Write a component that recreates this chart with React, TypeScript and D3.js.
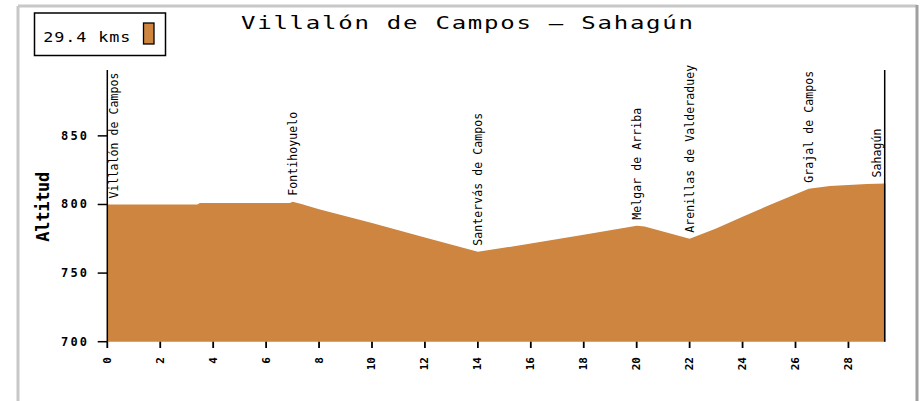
import React from "react";
import * as d3 from "d3";

const profileKm = [0, 3.4, 3.5, 6.9, 7.0, 7.3, 8, 10, 12, 14, 16, 18, 20, 20.3, 22, 23, 24, 25, 26, 26.5, 27.3, 28.7, 29.4];
const profileAlt = [800, 800, 801, 801, 802, 800.5, 796.5, 786.5, 776, 765.5, 771.5, 778, 784.5, 784, 775, 782.5, 791, 799.5, 807.5, 811.5, 813.5, 815, 815.3];

const stationNames = ["Villalón de Campos", "Fontihoyuelo", "Santervás de Campos", "Melgar de Arriba", "Arenillas de Valderaduey", "Grajal de Campos", "Sahagún"];
const stationKm = [0, 7.0, 14.0, 20.0, 22.0, 26.5, 29.4];
const stationAlt = [800, 802, 765.5, 784.5, 775, 811.5, 815.3];

const yTicks = [700, 750, 800, 850];
const xTicks = [0, 2, 4, 6, 8, 10, 12, 14, 16, 18, 20, 22, 24, 26, 28];

const title = "Villalón de Campos – Sahagún";
const legendText = "29.4 kms";
const yLabel = "Altitud";

const W = 923, H = 401;
const FILL = "#CD853F";
const MONO = "'DejaVu Sans Mono', 'Liberation Mono', monospace";

export default function App() {
  const x = d3.scaleLinear().domain([0, 29.4]).range([107.3, 885.5]);
  const y = d3.scaleLinear().domain([700, 898]).range([341.7, 70]);
  const pts = profileKm.map((k, i) => [k, profileAlt[i]] as [number, number]);
  const area = d3.area<[number, number]>()
    .x(d => x(d[0]))
    .y0(y(700))
    .y1(d => y(d[1]));

  const ts = 1.3;
  const ls = 1.2;

  return (
    <div style={{ position: "fixed", left: 0, top: 0 }}>
      <svg width={W} height={H} style={{ display: "block", background: "#fff" }}>
        {/* frame */}
        <line x1={18} y1={6} x2={917} y2={6} stroke="#c8c8c8" strokeWidth={3} />
        <line x1={18} y1={6} x2={18} y2={H} stroke="#c8c8c8" strokeWidth={3} />
        <line x1={917} y1={5} x2={917} y2={H} stroke="#a0a0a0" strokeWidth={3} />

        {/* title */}
        <text transform={`translate(241,28.5) scale(${ts},1)`} fontFamily={MONO} fontSize={18.5} textLength={452 / ts} lengthAdjust="spacing" fill="#000">{title}</text>

        {/* legend */}
        <rect x={34.5} y={13} width={131} height={42.5} fill="#fff" stroke="#000" strokeWidth={1.5} />
        <text transform={`translate(43.3,41.7) scale(${ls},1)`} fontFamily={MONO} fontSize={14} textLength={87 / ls} lengthAdjust="spacing" fill="#000">{legendText}</text>
        <rect x={143.5} y={23} width={10.5} height={21} fill={FILL} stroke="#000" strokeWidth={1.3} />

        {/* area */}
        <path d={area(pts) || ""} fill={FILL} />

        {/* axes */}
        <line x1={x(0)} y1={70} x2={x(0)} y2={y(700)} stroke="#000" strokeWidth={1.5} />
        <line x1={x(29.4) - 0.8} y1={70} x2={x(29.4) - 0.8} y2={y(700)} stroke="#000" strokeWidth={1.5} />
        {yTicks.map(t => (
          <g key={"y" + t}>
            <line x1={97.7} x2={x(0)} y1={y(t)} y2={y(t)} stroke="#000" strokeWidth={1.5} />
            <text x={87} y={y(t)} textAnchor="end" dominantBaseline="central" fontFamily={MONO} fontWeight="bold" fontSize={12} textLength={26} lengthAdjust="spacing" fill="#000">{t}</text>
          </g>
        ))}
        {xTicks.map(t => (
          <g key={"x" + t}>
            <line x1={x(t)} x2={x(t)} y1={y(700)} y2={348} stroke="#000" strokeWidth={1.8} />
            <text transform={`translate(${x(t)},357) rotate(-90)`} textAnchor="end" dominantBaseline="central" fontFamily={MONO} fontWeight="bold" fontSize={11} fill="#000">{t}</text>
          </g>
        ))}

        {/* y label */}
        <text transform={`translate(49,206.7) rotate(-90)`} textAnchor="middle" fontFamily={MONO} fontWeight="bold" fontSize={17} textLength={70} lengthAdjust="spacing" fill="#000">{yLabel}</text>

        {/* station labels */}
        {stationNames.map((n, i) => {
          const cx = Math.max(114, Math.min(877, x(stationKm[i])));
          const by = y(stationAlt[i]) - 6;
          return (
            <text key={n} transform={`translate(${cx},${by}) rotate(-90)`} textAnchor="start" dominantBaseline="central" fontFamily={MONO} fontSize={11.5} textLength={n.length * 7} lengthAdjust="spacing" fill="#000">{n}</text>
          );
        })}
      </svg>
    </div>
  );
}
